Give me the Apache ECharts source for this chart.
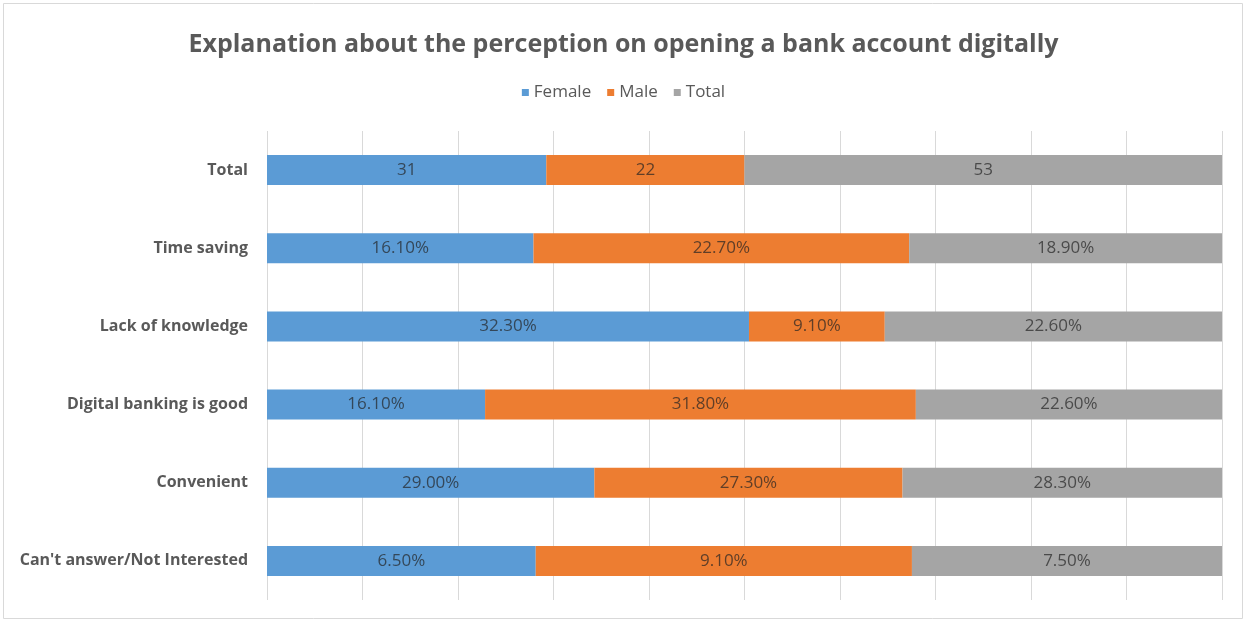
<!DOCTYPE html>
<html>
<head>
<meta charset="utf-8">
<script src="https://cdn.jsdelivr.net/npm/echarts@6/dist/echarts.min.js"></script>
<style>
html,body{margin:0;padding:0;background:#fff;}
#chart{width:1247px;height:623px;}
</style>
</head>
<body>
<div id="chart"></div>
<script>
var categories = ["Can't answer/Not Interested", "Convenient", "Digital banking is good", "Lack of knowledge", "Time saving", "Total"];
var seriesNames = ["Female", "Male", "Total"];
var female = [6.5, 29.0, 16.1, 32.3, 16.1, 31];
var male = [9.1, 27.3, 31.8, 9.1, 22.7, 22];
var total = [7.5, 28.3, 22.6, 22.6, 18.9, 53];
var femaleLabels = ["6.50%", "29.00%", "16.10%", "32.30%", "16.10%", "31"];
var maleLabels = ["9.10%", "27.30%", "31.80%", "9.10%", "22.70%", "22"];
var totalLabels = ["7.50%", "28.30%", "22.60%", "22.60%", "18.90%", "53"];
var colors = ["#5B9BD5", "#ED7D31", "#A5A5A5"];

var raw = [female, male, total];
var labels = [femaleLabels, maleLabels, totalLabels];
var sums = categories.map(function(c, i){ return female[i] + male[i] + total[i]; });

var chart = echarts.init(document.getElementById('chart'));
var series = raw.map(function(arr, s){
  return {
    name: seriesNames[s],
    type: 'bar',
    stack: 'all',
    barWidth: 30,
    itemStyle: {color: colors[s]},
    label: {
      show: true,
      position: 'inside',
      color: 'rgba(35,35,35,0.7)',
      fontFamily: 'Open Sans',
      fontSize: 17,
      formatter: function(p){ return labels[s][p.dataIndex]; }
    },
    data: arr.map(function(v, i){ return v / sums[i] * 100; })
  };
});

chart.setOption({
  animation: false,
  color: colors,
  title: {
    text: 'Explanation about the perception on opening a bank account digitally',
    left: 'center',
    top: 27,
    textStyle: {fontFamily: 'Open Sans', fontSize: 25, fontWeight: 'bold', color: '#595959'}
  },
  legend: {
    top: 79,
    left: 'center',
    itemWidth: 7,
    itemHeight: 7,
    itemGap: 16,
    icon: 'rect',
    textStyle: {fontFamily: 'Open Sans', fontSize: 17, color: '#595959'},
    data: seriesNames
  },
  graphic: [{
    type: 'rect',
    shape: {x: 3.5, y: 3.5, width: 1239, height: 615},
    style: {fill: 'none', stroke: '#d9d9d9', lineWidth: 1},
    silent: true
  }],
  grid: {left: 267, right: 25, top: 131, bottom: 23},
  xAxis: {
    type: 'value',
    min: 0,
    max: 100,
    interval: 10,
    axisLabel: {show: false},
    axisLine: {show: false},
    axisTick: {show: false},
    splitLine: {lineStyle: {color: '#d9d9d9', width: 1}}
  },
  yAxis: {
    type: 'category',
    data: categories,
    axisLine: {show: false},
    axisTick: {show: false},
    axisLabel: {fontFamily: 'Open Sans', fontSize: 16, fontWeight: 'bold', color: '#595959', margin: 19}
  },
  series: series
});
</script>
</body>
</html>
